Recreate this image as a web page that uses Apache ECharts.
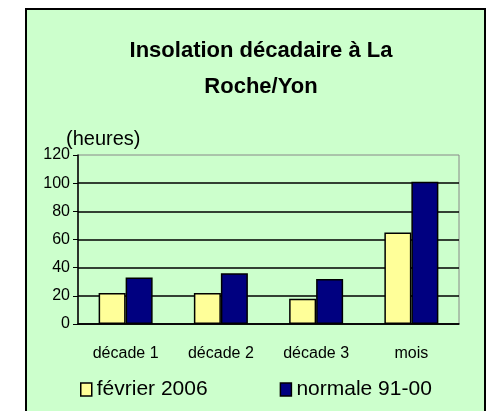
<!DOCTYPE html>
<html lang="fr">
<head>
    <meta charset="UTF-8">
    <title>Insolation décadaire</title>
    <script src="https://cdn.jsdelivr.net/npm/echarts@6/dist/echarts.min.js"></script>
    <style>
        body { margin: 0; background: #fff; }
        #chart { width: 496px; height: 411px; }
    </style>
</head>
<body>
    <div id="chart"></div>
    <script>
        var categories = ['décade 1', 'décade 2', 'décade 3', 'mois'];
        var fevrier2006 = [22, 22, 18, 65];
        var normale = [33, 36, 32, 101];
        var yTicks = [0, 20, 40, 60, 80, 100, 120];

        var myChart = echarts.init(document.getElementById('chart'));
        var font = 'Arial, "Liberation Sans", sans-serif';

        var option = {
            animation: false,
            graphic: [
                {
                    type: 'rect', z: -10,
                    shape: { x: 26, y: 9, width: 459, height: 420 },
                    style: { fill: '#CCFFCC', stroke: '#000', lineWidth: 2 }
                },
                {
                    type: 'text', left: 66, top: 129,
                    style: { text: '(heures)', font: '20px ' + font, fill: '#000' }
                }
            ],
            title: {
                text: 'Insolation décadaire à La\nRoche/Yon',
                left: 256, top: 28, textAlign: 'center',
                textStyle: { fontFamily: font, fontWeight: 'bold', fontSize: 22, lineHeight: 36, color: '#000' }
            },
            legend: {
                left: 75, top: 374,
                itemWidth: 11, itemHeight: 13, itemGap: 72,
                textStyle: { fontFamily: font, fontSize: 21, color: '#000' },
                data: [
                    { name: 'février 2006', icon: 'rect', itemStyle: { borderColor: '#000', borderWidth: 1.5 } },
                    { name: 'normale 91-00', icon: 'rect', itemStyle: { borderColor: '#000', borderWidth: 1.5 } }
                ]
            },
            grid: {
                left: 78, right: 37, top: 155, bottom: 87,
                show: true, borderColor: '#888', borderWidth: 1
            },
            xAxis: {
                type: 'category',
                data: categories,
                axisLine: { lineStyle: { color: '#000', width: 1.5 } },
                axisTick: { alignWithLabel: false, length: 5, lineStyle: { color: '#000' } },
                axisLabel: { margin: 22, fontFamily: font, fontSize: 16, color: '#000' }
            },
            yAxis: {
                type: 'value',
                min: yTicks[0], max: yTicks[yTicks.length - 1], interval: 20,
                axisLine: { show: true, lineStyle: { color: '#000', width: 1.5 } },
                axisTick: { show: true, length: 5, lineStyle: { color: '#000' } },
                axisLabel: { margin: 8, fontFamily: font, fontSize: 16, color: '#000' },
                splitLine: { show: true, showMaxLine: false, lineStyle: { color: '#000', width: 1.5 } }
            },
            series: [
                {
                    name: 'février 2006', type: 'bar', data: fevrier2006,
                    barWidth: 27, barGap: '0%',
                    itemStyle: { color: '#FFFF99', borderColor: '#000', borderWidth: 1.5 }
                },
                {
                    name: 'normale 91-00', type: 'bar', data: normale,
                    barWidth: 27,
                    itemStyle: { color: '#000080', borderColor: '#000', borderWidth: 1.5 }
                }
            ]
        };
        myChart.setOption(option);
    </script>
</body>
</html>
